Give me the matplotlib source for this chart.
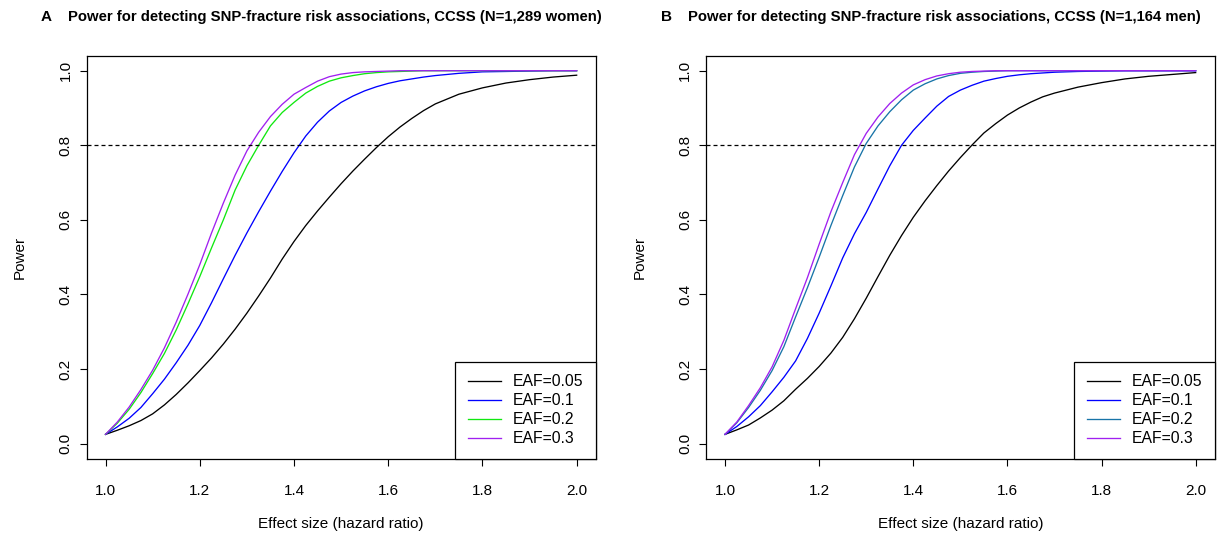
import numpy as np
import matplotlib
matplotlib.use("Agg")
import matplotlib.pyplot as plt

plt.rcParams["font.family"] = ["Liberation Sans", "DejaVu Sans"]

# effect size grid (hazard ratio)
hr = [1.000, 1.025, 1.050, 1.075, 1.100, 1.125, 1.150, 1.175, 1.200, 1.225,
      1.250, 1.275, 1.300, 1.325, 1.350, 1.375, 1.400, 1.425, 1.450, 1.475,
      1.500, 1.525, 1.550, 1.575, 1.600, 1.625, 1.650, 1.675, 1.700,
      1.75, 1.80, 1.85, 1.90, 1.95, 2.00]

eaf_labels = ["EAF=0.05", "EAF=0.1", "EAF=0.2", "EAF=0.3"]

# panel A: women, N=1,289
women_005 = [0.025, 0.036, 0.048, 0.062, 0.080, 0.104, 0.132, 0.163, 0.196, 0.230,
             0.267, 0.307, 0.350, 0.396, 0.444, 0.495, 0.542, 0.585, 0.624, 0.661,
             0.697, 0.731, 0.763, 0.794, 0.823, 0.849, 0.872, 0.893, 0.911,
             0.937, 0.954, 0.967, 0.976, 0.983, 0.988]
women_01 = [0.025, 0.045, 0.068, 0.097, 0.134, 0.173, 0.217, 0.264, 0.317, 0.378,
            0.442, 0.505, 0.565, 0.622, 0.677, 0.730, 0.780, 0.825, 0.862, 0.892,
            0.915, 0.932, 0.946, 0.957, 0.966, 0.973, 0.978, 0.983, 0.987,
            0.993, 0.997, 0.998, 0.999, 1.000, 1.000]
women_02 = [0.025, 0.055, 0.092, 0.137, 0.188, 0.242, 0.305, 0.375, 0.448, 0.525,
            0.600, 0.680, 0.745, 0.800, 0.852, 0.888, 0.915, 0.940, 0.958, 0.972,
            0.981, 0.987, 0.992, 0.995, 0.997, 0.998, 0.999, 1.000, 1.000,
            1.000, 1.000, 1.000, 1.000, 1.000, 1.000]
women_03 = [0.025, 0.058, 0.098, 0.145, 0.197, 0.257, 0.326, 0.401, 0.480, 0.565,
            0.645, 0.720, 0.785, 0.835, 0.877, 0.910, 0.937, 0.955, 0.972, 0.984,
            0.991, 0.995, 0.997, 0.998, 0.999, 1.000, 1.000, 1.000, 1.000,
            1.000, 1.000, 1.000, 1.000, 1.000, 1.000]

# panel B: men, N=1,164
men_005 = [0.025, 0.037, 0.050, 0.069, 0.090, 0.115, 0.146, 0.175, 0.207, 0.243,
           0.285, 0.335, 0.390, 0.448, 0.505, 0.558, 0.607, 0.651, 0.692, 0.731,
           0.767, 0.801, 0.833, 0.858, 0.881, 0.900, 0.916, 0.930, 0.940,
           0.956, 0.968, 0.978, 0.985, 0.990, 0.995]
men_01 = [0.025, 0.046, 0.072, 0.102, 0.139, 0.178, 0.222, 0.282, 0.350, 0.423,
          0.498, 0.563, 0.620, 0.683, 0.745, 0.800, 0.840, 0.873, 0.905, 0.931,
          0.948, 0.961, 0.972, 0.979, 0.985, 0.989, 0.992, 0.994, 0.996,
          0.998, 0.999, 1.000, 1.000, 1.000, 1.000]
men_02 = [0.025, 0.056, 0.097, 0.143, 0.196, 0.260, 0.340, 0.418, 0.500, 0.585,
          0.665, 0.742, 0.805, 0.852, 0.890, 0.922, 0.948, 0.965, 0.978, 0.987,
          0.993, 0.996, 0.998, 0.999, 1.000, 1.000, 1.000, 1.000, 1.000,
          1.000, 1.000, 1.000, 1.000, 1.000, 1.000]
men_03 = [0.025, 0.058, 0.102, 0.150, 0.206, 0.277, 0.362, 0.445, 0.535, 0.622,
          0.700, 0.775, 0.832, 0.876, 0.912, 0.940, 0.962, 0.976, 0.986, 0.992,
          0.996, 0.998, 0.999, 1.000, 1.000, 1.000, 1.000, 1.000, 1.000,
          1.000, 1.000, 1.000, 1.000, 1.000, 1.000]

colors_a = ["black", "#0000FF", "#10E810", "#A020F0"]
colors_b = ["black", "#0000FF", "#1874A8", "#A020F0"]

W, H = 1218, 541
fig = plt.figure(figsize=(W / 100, H / 100), dpi=100)


def panel(rect, series, colors, letter, title, letter_x, title_x):
    ax = fig.add_axes(rect)
    for y, c, lab in zip(series, colors, eaf_labels):
        ax.plot(hr, y, color=c, lw=0.95, label=lab)
    ax.axhline(0.8, color="black", lw=0.9, linestyle=(0, (3.2, 2.4)))
    ax.set_xlim(0.96, 2.04)
    ax.set_ylim(-0.04, 1.04)
    ax.set_xticks(np.arange(1.0, 2.01, 0.2))
    ax.set_yticks(np.arange(0.0, 1.01, 0.2))
    ax.set_xticklabels(["%.1f" % v for v in np.arange(1.0, 2.01, 0.2)])
    ax.set_yticklabels(["%.1f" % v for v in np.arange(0.0, 1.01, 0.2)],
                       rotation=90, va="center")
    ax.tick_params(direction="out", length=5, width=0.8, labelsize=11)
    ax.tick_params(axis="x", pad=13)
    ax.tick_params(axis="y", pad=5)
    for s in ax.spines.values():
        s.set_linewidth(0.9)
    ax.set_xlabel("Effect size (hazard ratio)", fontsize=11)
    ax.set_ylabel("Power", fontsize=11)
    ax.xaxis.label.set_va("center")
    ax.yaxis.label.set_va("center")
    ax.xaxis.set_label_coords(0.5, -0.163)
    ax.yaxis.set_label_coords(-0.131, 0.5)
    leg = ax.legend(loc="lower right", borderaxespad=0, fontsize=11.3,
                    fancybox=False, framealpha=1, edgecolor="black",
                    handlelength=2.1, handletextpad=0.75, labelspacing=0.25,
                    borderpad=0.8)
    leg.get_frame().set_linewidth(0.9)
    fig.text(letter_x / W, 1 - 17 / H, letter, fontsize=11, fontweight="bold",
             ha="left", va="center")
    fig.text(title_x / W, 1 - 17 / H, title, fontsize=10.7, fontweight="bold",
             ha="left", va="center")
    return ax


panel([86.7 / W, 1 - 458.6 / H, 508.8 / W, 402.8 / H],
      [women_005, women_01, women_02, women_03], colors_a, "A",
      "Power for detecting SNP-fracture risk associations, CCSS (N=1,289 women)",
      41, 68)
panel([706.2 / W, 1 - 458.6 / H, 508.3 / W, 402.8 / H],
      [men_005, men_01, men_02, men_03], colors_b, "B",
      "Power for detecting SNP-fracture risk associations, CCSS (N=1,164 men)",
      661, 688)

fig.savefig("out.png", dpi=100)
